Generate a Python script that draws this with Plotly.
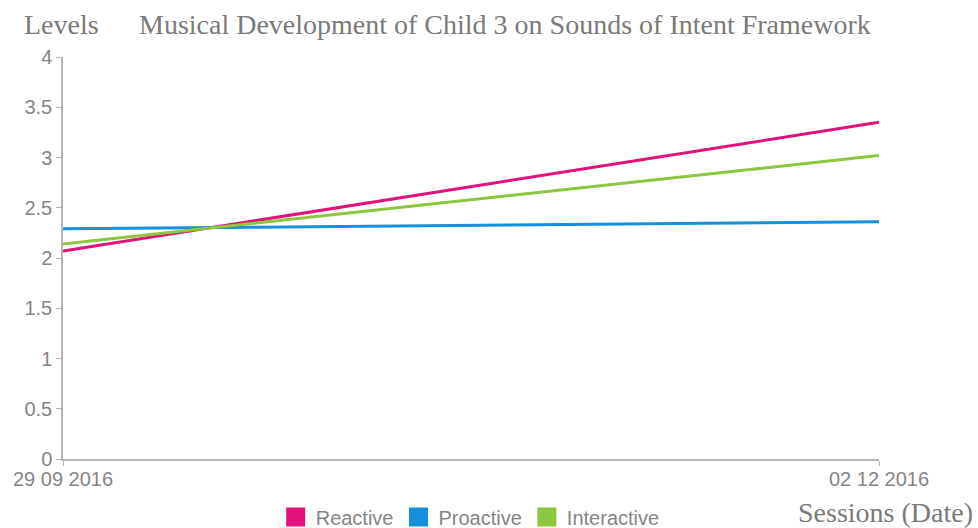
import plotly.graph_objects as go

# Session dates (category axis) and Sounds of Intent levels per domain
sessions = ["29 09 2016", "02 12 2016"]
reactive = [2.07, 3.35]
proactive = [2.29, 2.36]
interactive = [2.14, 3.02]

series_names = ["Reactive", "Proactive", "Interactive"]
series_colors = ["#e2127a", "#1490dc", "#8dc63f"]
series_values = [reactive, proactive, interactive]

y_ticks = [0, 0.5, 1, 1.5, 2, 2.5, 3, 3.5, 4]

fig = go.Figure()

for name, color, values in zip(series_names, series_colors, series_values):
    fig.add_trace(go.Scatter(
        x=sessions, y=values, mode="lines", name=name,
        line=dict(color=color, width=3), showlegend=False,
    ))

# Square swatches for the legend
for name, color in zip(series_names, series_colors):
    fig.add_trace(go.Scatter(
        x=[None], y=[None], mode="markers", name=name,
        marker=dict(symbol="square", size=16, color=color,
                    line=dict(color=color, width=3)),
    ))

tick_font = dict(family="Liberation Sans, Arial, sans-serif", size=20, color="#858585")
serif = "Liberation Serif, Times New Roman, serif"

fig.update_layout(
    width=978, height=528,
    margin=dict(l=63, r=99, t=57, b=69, autoexpand=False),
    paper_bgcolor="white", plot_bgcolor="white",
    xaxis=dict(
        type="category", range=[0, 1],
        showgrid=False, zeroline=False,
        showline=True, linecolor="#b5b5b5", linewidth=1.5,
        ticks="outside", ticklen=5, tickcolor="#b5b5b5",
        tickfont=tick_font, ticklabelstandoff=-4,
    ),
    yaxis=dict(
        range=[0, 4], tickvals=y_ticks,
        ticktext=[f"{v:g}" for v in y_ticks],
        showgrid=False, zeroline=False,
        showline=True, linecolor="#b5b5b5", linewidth=1.5,
        ticks="outside", ticklen=5, tickcolor="#b5b5b5",
        tickfont=tick_font,
    ),
    legend=dict(
        orientation="h", x=0.499, xanchor="center", y=-0.144, yanchor="middle",
        font=dict(family="Liberation Sans, Arial, sans-serif", size=20, color="#858585"),
        itemwidth=30,
    ),
    annotations=[
        dict(text="Levels", xref="paper", yref="paper", x=-0.0502, y=1.082,
             xanchor="left", yanchor="middle", showarrow=False,
             font=dict(family=serif, size=28, color="#7a7a7a")),
        dict(text="Musical Development of Child 3 on Sounds of Intent Framework",
             xref="paper", yref="paper", x=0.0907, y=1.082,
             xanchor="left", yanchor="middle", showarrow=False,
             font=dict(family=serif, size=28, color="#7a7a7a")),
        dict(text="Sessions (Date)", xref="paper", yref="paper", x=1.1176, y=-0.132,
             xanchor="right", yanchor="middle", showarrow=False,
             font=dict(family=serif, size=28, color="#7a7a7a")),
    ],
)

fig.write_html("out.html")
